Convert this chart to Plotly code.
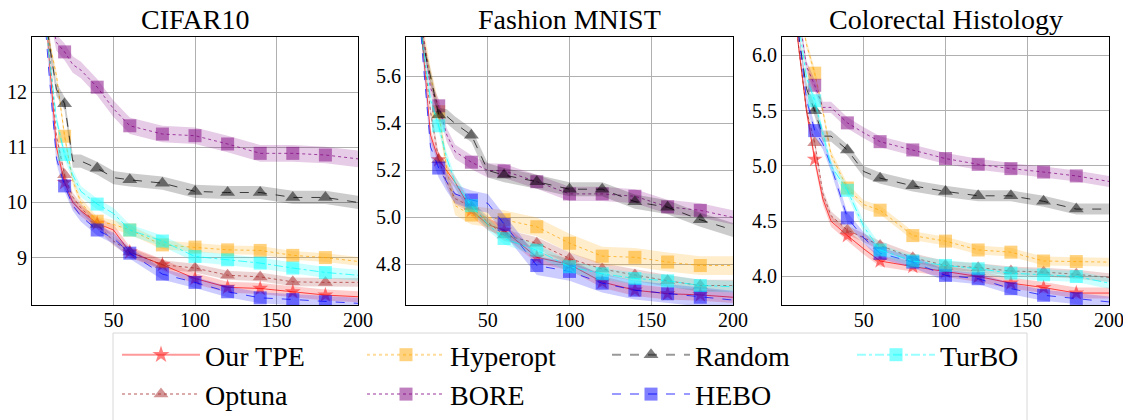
import plotly.graph_objects as go

# evaluations at which values were read
X = [1, 5, 10, 15, 20, 25, 30, 40, 50, 60, 80, 100, 120, 140, 160, 180, 200]
MARK_X = [20, 40, 60, 80, 100, 120, 140, 160, 180]

METHODS = ["Our TPE", "Optuna", "Hyperopt", "BORE", "Random", "HEBO", "TurBO"]
COLORS = ["255,0,0", "165,42,42", "255,165,0", "128,0,128", "0,0,0", "0,0,255", "0,255,255"]
DASHES = ["solid", "dot", "dot", "dot", "dash", "dash", "dashdot"]
SYMBOLS = ["star", "triangle-up", "square", "square", "triangle-up", "square", "square"]
LEGEND_ORDER = ["Our TPE", "Hyperopt", "Random", "TurBO", "Optuna", "BORE", "HEBO"]

TITLES = ["CIFAR10", "Fashion MNIST", "Colorectal Histology"]

# CIFAR10
cifar_tpe = [18, 15, 12.8, 11.0, 10.36, 10.0, 9.85, 9.62, 9.5, 9.1, 8.87, 8.62, 8.46, 8.44, 8.38, 8.32, 8.29]
cifar_optuna = [18, 15, 13.0, 11.2, 10.5, 10.1, 9.9, 9.6, 9.3, 9.1, 8.87, 8.81, 8.68, 8.65, 8.56, 8.55, 8.55]
cifar_hyperopt = [18, 15, 13.0, 12.3, 11.2, 10.4, 10.0, 9.66, 9.6, 9.5, 9.23, 9.19, 9.14, 9.13, 9.04, 9.0, 8.93]
cifar_bore = [18, 15.5, 13.6, 12.9, 12.73, 12.5, 12.4, 12.09, 11.7, 11.39, 11.24, 11.21, 11.06, 10.89, 10.89, 10.86, 10.79]
cifar_random = [18, 15, 13.0, 12.05, 11.79, 10.75, 10.75, 10.62, 10.45, 10.41, 10.35, 10.2, 10.18, 10.18, 10.09, 10.09, 10.0]
cifar_hebo = [18, 14.5, 12.5, 10.8, 10.3, 9.95, 9.75, 9.5, 9.35, 9.08, 8.7, 8.55, 8.38, 8.27, 8.24, 8.2, 8.17]
cifar_turbo = [18, 15, 12.8, 11.5, 10.87, 10.5, 10.2, 9.97, 9.8, 9.5, 9.3, 9.02, 8.96, 8.9, 8.81, 8.73, 8.68]
cifar_spread = [0.1, 0.08, 0.08, 0.15, 0.12, 0.1, 0.1]

# Fashion MNIST
fmnist_tpe = [7, 6.3, 5.75, 5.35, 5.245, 5.2, 5.15, 5.03, 4.97, 4.945, 4.83, 4.8, 4.725, 4.69, 4.675, 4.67, 4.66]
fmnist_optuna = [7, 6.3, 5.75, 5.45, 5.245, 5.15, 5.08, 5.045, 4.98, 4.925, 4.89, 4.825, 4.78, 4.755, 4.73, 4.71, 4.71]
fmnist_hyperopt = [7, 6.4, 5.8, 5.6, 5.45, 5.2, 5.05, 5.01, 5.0, 4.99, 4.96, 4.89, 4.835, 4.83, 4.81, 4.795, 4.795]
fmnist_bore = [7, 6.4, 5.8, 5.55, 5.475, 5.35, 5.28, 5.235, 5.2, 5.198, 5.152, 5.1, 5.1, 5.09, 5.045, 5.03, 5.0]
fmnist_random = [7, 6.3, 5.75, 5.6, 5.436, 5.43, 5.4, 5.35, 5.2, 5.18, 5.152, 5.12, 5.12, 5.067, 5.043, 4.99, 4.946]
fmnist_hebo = [7, 6.2, 5.7, 5.3, 5.21, 5.15, 5.1, 5.074, 5.06, 4.97, 4.795, 4.77, 4.72, 4.69, 4.675, 4.66, 4.648]
fmnist_turbo = [7, 6.3, 5.75, 5.5, 5.39, 5.25, 5.15, 5.05, 4.97, 4.91, 4.86, 4.79, 4.76, 4.74, 4.73, 4.71, 4.705]
fmnist_spread = [0.025, 0.025, 0.04, 0.03, 0.03, 0.04, 0.025]

# Colorectal Histology
crc_tpe = [7.5, 6.8, 6.1, 5.5, 5.06, 4.7, 4.5, 4.37, 4.25, 4.14, 4.09, 4.045, 4.0, 3.94, 3.9, 3.85, 3.85]
crc_optuna = [7.5, 6.8, 6.1, 5.5, 5.21, 4.75, 4.55, 4.42, 4.35, 4.28, 4.17, 4.1, 4.08, 4.05, 4.04, 4.02, 3.99]
crc_hyperopt = [7.5, 7.0, 6.5, 6.1, 5.84, 5.5, 5.1, 4.8, 4.65, 4.6, 4.37, 4.32, 4.24, 4.22, 4.14, 4.135, 4.13]
crc_bore = [7.5, 7.0, 6.4, 5.9, 5.73, 5.53, 5.53, 5.39, 5.3, 5.22, 5.145, 5.067, 5.015, 4.976, 4.945, 4.91, 4.86]
crc_random = [7.5, 6.8, 6.2, 5.7, 5.5, 5.27, 5.27, 5.145, 4.95, 4.89, 4.82, 4.77, 4.73, 4.73, 4.68, 4.61, 4.61]
crc_hebo = [7.5, 6.9, 6.2, 5.6, 5.32, 5.2, 5.0, 4.53, 4.35, 4.21, 4.13, 4.01, 3.98, 3.89, 3.83, 3.8, 3.77]
crc_turbo = [7.5, 6.9, 6.3, 5.8, 5.59, 5.3, 5.0, 4.78, 4.45, 4.24, 4.14, 4.1, 4.07, 4.03, 4.015, 4.0, 3.94]
crc_spread = [0.05, 0.04, 0.04, 0.05, 0.05, 0.05, 0.05]

panels = [
    ([cifar_tpe, cifar_optuna, cifar_hyperopt, cifar_bore, cifar_random, cifar_hebo, cifar_turbo], cifar_spread),
    ([fmnist_tpe, fmnist_optuna, fmnist_hyperopt, fmnist_bore, fmnist_random, fmnist_hebo, fmnist_turbo], fmnist_spread),
    ([crc_tpe, crc_optuna, crc_hyperopt, crc_bore, crc_random, crc_hebo, crc_turbo], crc_spread),
]
y_ranges = [[8.14, 13.0], [4.627, 5.768], [3.742, 6.167]]
y_ticks = [[9, 10, 11, 12], [4.8, 5.0, 5.2, 5.4, 5.6], [4.0, 4.5, 5.0, 5.5, 6.0]]
y_fmt = ["d", ".1f", ".1f"]

W, H = 1123, 420
PLOT_TOP, PLOT_BOTTOM = 37, 305
domains = [[32 / W, 358 / W], [406 / W, 733 / W], [782 / W, 1109 / W]]


def paper_y(px):
    return (PLOT_BOTTOM - px) / (PLOT_BOTTOM - PLOT_TOP)


fig = go.Figure()
serif = "Liberation Serif, Times New Roman, serif"

for p, (curves, spread) in enumerate(panels):
    xa = "x" if p == 0 else f"x{p + 1}"
    ya = "y" if p == 0 else f"y{p + 1}"
    for i, name in enumerate(METHODS):
        y = curves[i]
        c = COLORS[i]
        hi = [v + spread[i] for v in y]
        lo = [v - spread[i] for v in y]
        # shaded band
        fig.add_trace(go.Scatter(
            x=X + X[::-1], y=hi + lo[::-1], fill="toself",
            fillcolor=f"rgba({c},0.2)", line=dict(width=0),
            hoverinfo="skip", showlegend=False, xaxis=xa, yaxis=ya,
        ))
        # mean line
        fig.add_trace(go.Scatter(
            x=X, y=y, mode="lines", line=dict(color=f"rgba({c},0.7)", width=1, dash=DASHES[i]),
            showlegend=False, xaxis=xa, yaxis=ya,
        ))
        # markers every 20 evaluations
        mx = [x for x in X if x in MARK_X]
        my = [v for x, v in zip(X, y) if x in MARK_X]
        fig.add_trace(go.Scatter(
            x=mx, y=my, mode="markers",
            marker=dict(symbol=SYMBOLS[i], size=13 if SYMBOLS[i] != "star" else 12,
                        color=f"rgba({c},0.5)", line=dict(width=0)),
            showlegend=False, xaxis=xa, yaxis=ya,
        ))

# legend entries
for name in LEGEND_ORDER:
    i = METHODS.index(name)
    c = COLORS[i]
    fig.add_trace(go.Scatter(
        x=[None], y=[None], mode="lines+markers", name=name,
        line=dict(color=f"rgba({c},0.4)", width=2, dash=DASHES[i]),
        marker=dict(symbol=SYMBOLS[i], size=13, color=f"rgba({c},0.5)"),
    ))

axis_common = dict(
    showline=True, mirror=True, linecolor="black", linewidth=1,
    showgrid=True, gridcolor="#b0b0b0", gridwidth=1, zeroline=False,
    ticks="", tickfont=dict(family=serif, size=20, color="black"),
    ticklabeloverflow="allow",
)

layout = dict(
    width=W, height=H,
    margin=dict(l=0, r=0, t=PLOT_TOP, b=H - PLOT_BOTTOM, autoexpand=False),
    plot_bgcolor="white", paper_bgcolor="white",
    font=dict(family=serif, color="black"),
    legend=dict(
        orientation="h", x=117 / W, xanchor="left", y=paper_y(330), yanchor="top",
        font=dict(family=serif, size=28, color="black"),
        borderwidth=0, bgcolor="rgba(0,0,0,0)",
        itemwidth=78, entrywidth=152, entrywidthmode="pixels",
    ),
    # legend frame
    shapes=[dict(
        type="rect", xref="paper", yref="paper",
        x0=113 / W, x1=1027 / W, y0=paper_y(333), y1=paper_y(440),
        line=dict(color="#d8d8d8", width=1), fillcolor="rgba(0,0,0,0)",
    )],
)
annotations = []
for p in range(3):
    key = "" if p == 0 else str(p + 1)
    layout[f"xaxis{key}"] = dict(
        axis_common, domain=domains[p], range=[0, 200],
        tickvals=[50, 100, 150, 200], anchor=f"y{key}", ticklabelstandoff=-3,
    )
    layout[f"yaxis{key}"] = dict(
        axis_common, domain=[0, 1], range=y_ranges[p],
        tickvals=y_ticks[p], tickformat=y_fmt[p], anchor=f"x{key}",
    )
    annotations.append(dict(
        text=TITLES[p], x=sum(domains[p]) / 2, y=1, xref="paper", yref="paper",
        xanchor="center", yanchor="bottom", yshift=0, showarrow=False,
        font=dict(family=serif, size=28, color="black"),
    ))
layout["annotations"] = annotations
fig.update_layout(**layout)

# drop the browser's default page margin so the figure sits at the window corner
fig.write_html(
    "out.html",
    config={"displayModeBar": False},
    post_script="document.body.style.margin='0';",
)
